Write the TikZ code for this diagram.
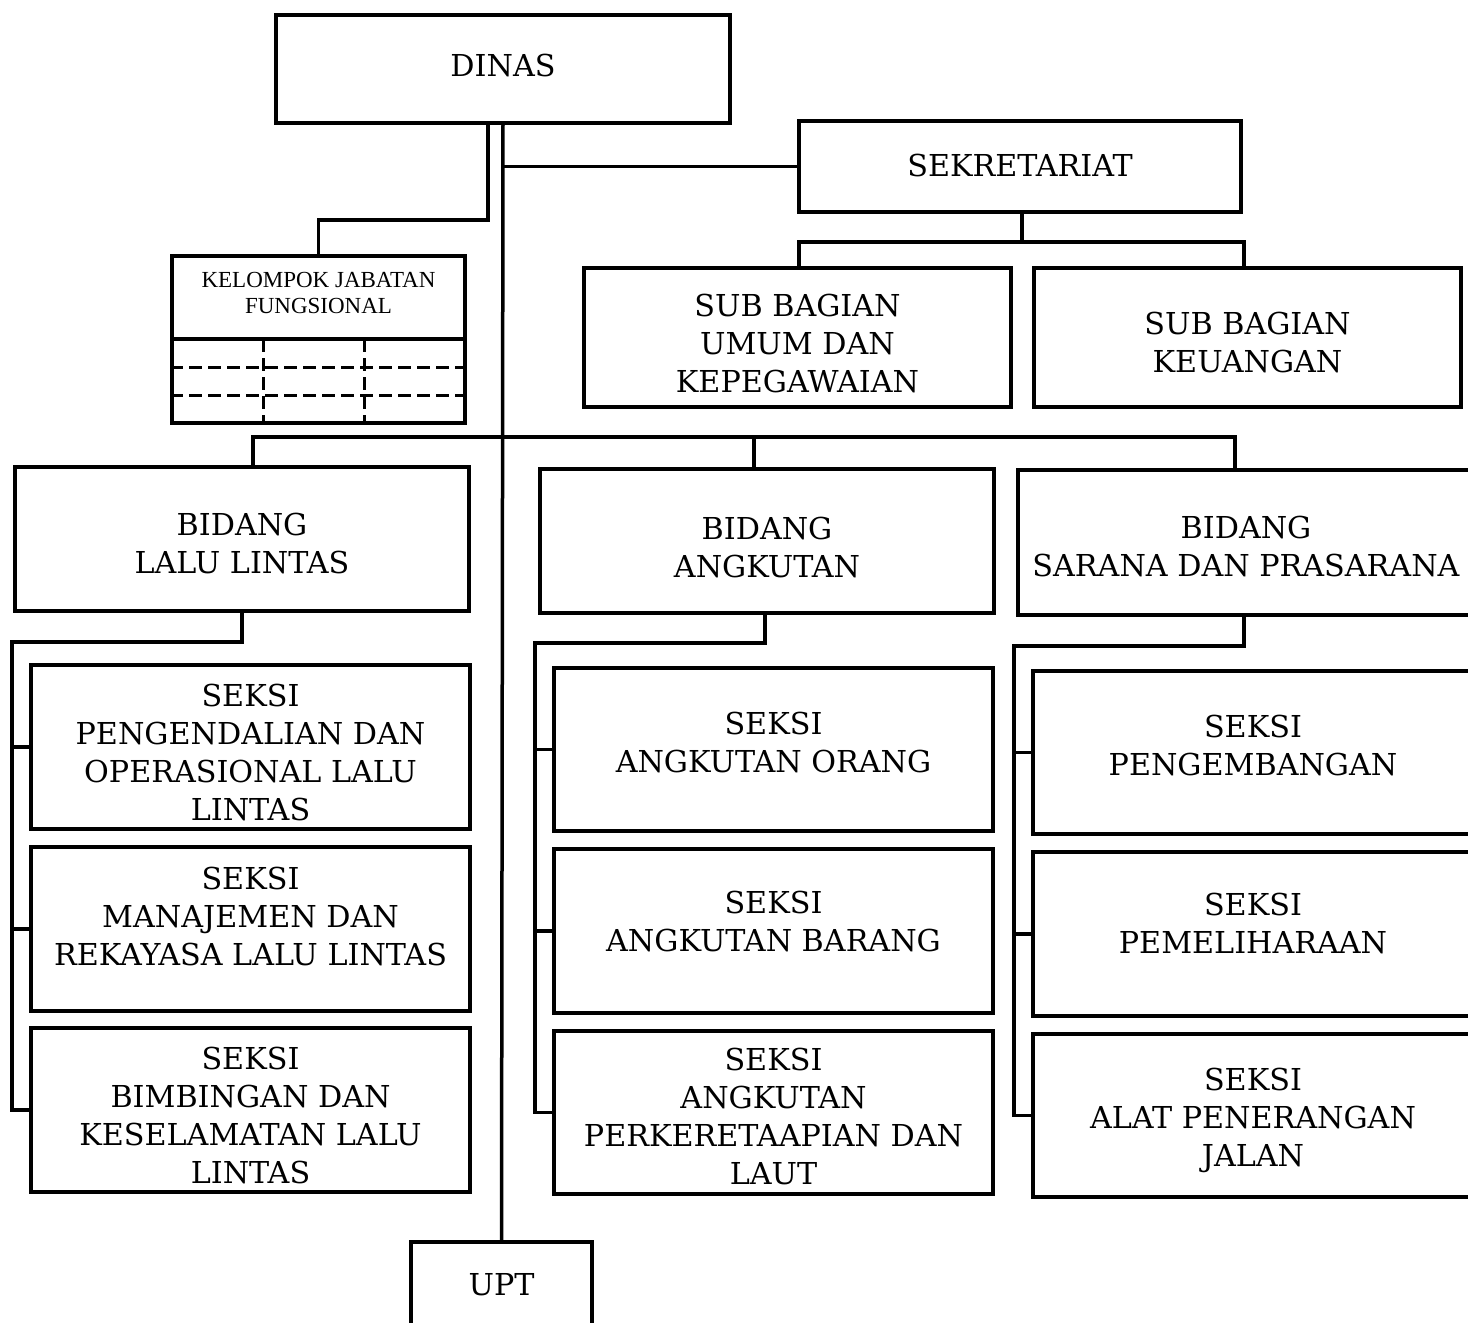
\documentclass[tikz,border=0pt]{standalone}
\usepackage{fontspec}
\setmainfont{DejaVu Serif}
\newfontfamily\smallfont{Liberation Serif}
\newcommand\orgbox[7]{%
  \node[box, minimum width=#4, minimum height=#5] (#1) at (#2,#3) {};
  \node[txt] (#1-t) at (#2,#6) {#7};}
\begin{document}
\begin{tikzpicture}[x=1pt,y=-1pt,line width=3.5pt,
  box/.style={draw, rectangle, inner sep=0pt, fill=white},
  txt/.style={inner sep=0pt, align=center, font=\fontsize{30.2}{38}\selectfont},
  small/.style={inner sep=0pt, align=center, font=\smallfont\fontsize{23}{26}\selectfont},
  dsh/.style={line width=3pt, dash pattern=on 13pt off 6pt}]
\useasboundingbox (0,0) rectangle (1468,1323);
\clip (0,0) rectangle (1468,1323);
% boxes
\orgbox{dinas}{503}{69}{454}{108}{66}{DINAS}
\orgbox{sek}{1020}{166.5}{442}{91}{166}{SEKRETARIAT}
\node[box, minimum width=293, minimum height=167] (kjf) at (318.5,339.5) {};
\node[small] (kjft) at (318.5,293) {KELOMPOK JABATAN\\FUNGSIONAL};
\orgbox{sbu}{797.5}{337.5}{427}{139}{343}{SUB BAGIAN\\UMUM DAN\\KEPEGAWAIAN}
\orgbox{sbk}{1247.5}{337.5}{427}{139}{343}{SUB BAGIAN\\KEUANGAN}
\orgbox{bll}{242}{539}{454}{144}{543}{BIDANG\\LALU LINTAS}
\orgbox{ban}{767}{541}{454}{144}{547}{BIDANG\\ANGKUTAN}
\orgbox{bsp}{1246}{542.5}{456}{145}{546.5}{BIDANG\\SARANA DAN PRASARANA}
\orgbox{s11}{250.5}{747}{439}{164}{752}{SEKSI\\PENGENDALIAN DAN\\OPERASIONAL LALU\\LINTAS}
\orgbox{s12}{250.5}{929}{439}{164}{916}{SEKSI\\MANAJEMEN DAN\\REKAYASA LALU LINTAS}
\orgbox{s13}{250.5}{1110}{439}{164}{1115}{SEKSI\\BIMBINGAN DAN\\KESELAMATAN LALU\\LINTAS}
\orgbox{s21}{773.5}{749.5}{439}{163}{742}{SEKSI\\ANGKUTAN ORANG}
\orgbox{s22}{773.5}{931}{439}{164}{921.5}{SEKSI\\ANGKUTAN BARANG}
\orgbox{s23}{773.5}{1112.5}{439}{163}{1116.5}{SEKSI\\ANGKUTAN\\PERKERETAAPIAN DAN\\LAUT}
\orgbox{s31}{1253}{752.5}{440}{163}{745}{SEKSI\\PENGEMBANGAN}
\orgbox{s32}{1253}{934}{440}{164}{923.5}{SEKSI\\PEMELIHARAAN}
\orgbox{s33}{1253}{1115.5}{440}{163}{1120}{SEKSI\\ALAT PENERANGAN\\JALAN}
\orgbox{upt}{501.5}{1286}{181}{88}{1285}{UPT}
% KJF grid
\draw (kjf.west |- 0,339) -- (kjf.east |- 0,339);
\draw[dsh] (kjf.west |- 0,367) -- (kjf.east |- 0,367);
\draw[dsh] (kjf.west |- 0,395) -- (kjf.east |- 0,395);
\draw[dsh] (263,339) -- (kjf.south -| 263,0);
\draw[dsh] (364,339) -- (kjf.south -| 364,0);
% coordinates
\coordinate (kj) at (488,220);
\coordinate (sekbus) at (1022,242);
\coordinate (bus) at (503,437);
\coordinate (j1) at (12,642);
\coordinate (j2) at (535,643);
\coordinate (j3) at (1014,646);
% connectors
\draw ([yshift=3pt]dinas.south) -- (upt.north);
\draw ([xshift=-15pt]dinas.south) -- ([xshift=-15pt]dinas.south |- kj) -| (kjf.north);
\draw (sek.west) -- (sek.west -| dinas.south);
\draw (sek.south -| sekbus) -- (sekbus);
\draw ([xshift=1.5pt]sbu.north) |- (sekbus) -| ([xshift=-3.5pt]sbk.north);
\draw ([xshift=11pt]bll.north) |- (bus) -| ([xshift=-11pt]bsp.north);
\draw ([xshift=-13pt]ban.north) -- ([xshift=-13pt]ban.north |- bus);
\draw (bll.south) |- (j1) |- (s13.west);
\draw (j1 |- s11.west) -- (s11.west);
\draw (j1 |- s12.west) -- (s12.west);
\draw ([xshift=-2pt]ban.south) |- (j2) |- (s23.west);
\draw (j2 |- s21.west) -- (s21.west);
\draw (j2 |- s22.west) -- (s22.west);
\draw ([xshift=-2pt]bsp.south) |- (j3) |- (s33.west);
\draw (j3 |- s31.west) -- (s31.west);
\draw (j3 |- s32.west) -- (s32.west);
\end{tikzpicture}
\end{document}
